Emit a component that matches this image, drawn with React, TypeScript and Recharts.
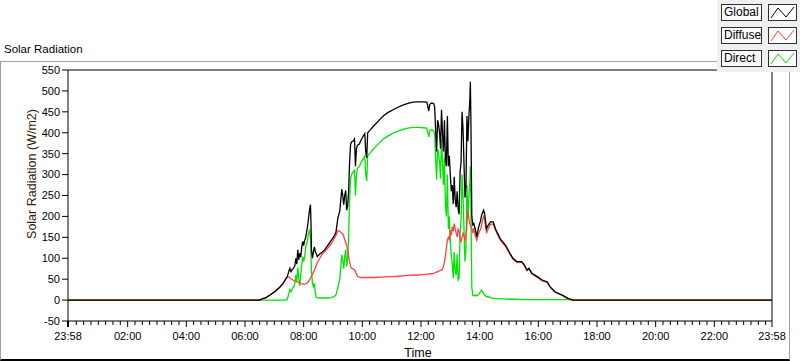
import React from 'react';
import { LineChart, Line, XAxis, YAxis, ReferenceArea } from 'recharts';

// time in minutes after midnight (-2 = 23:58 of the previous day)
const minutes = [
  -2, 390, 395, 403, 411, 421, 432, 438, 442, 446, 448, 450, 452, 454, 456, 458, 460, 462, 464, 466,
  468, 470, 472, 474, 476, 478, 480, 482, 484, 486, 488, 490, 492, 494, 495, 496, 498, 500, 502, 504,
  506, 508, 513, 517, 523, 529, 536, 542, 546, 550, 554, 556, 558, 560, 562, 564, 566, 568, 570, 572,
  574, 576, 578, 582, 584, 586, 588, 590, 594, 598, 603, 605, 607, 609, 611, 615, 622, 628, 636, 644,
  652, 663, 673, 683, 693, 704, 714, 724, 732, 736, 738, 742, 746, 748, 750, 752, 754, 756, 758, 760,
  762, 764, 766, 768, 770, 772, 774, 776, 778, 780, 782, 784, 786, 788, 790, 792, 794, 796, 798, 800,
  802, 804, 806, 808, 810, 812, 814, 816, 818, 820, 821, 822, 824, 826, 828, 832, 834, 838, 842, 844,
  848, 850, 854, 858, 862, 868, 872, 882, 893, 902, 908, 916, 926, 931, 937, 941, 947, 958, 968, 978,
  984, 994, 1009, 1021, 1031, 1438,
];

const globalRad = [
  0, 0, 3, 6, 12, 20, 32, 40, 48, 55, 62, 70, 76, 68, 72, 74, 78, 82, 100, 86,
  120, 96, 112, 102, 126, 140, 130, 143, 148, 162, 176, 196, 216, 228, 184, 120, 100, 115, 127, 115,
  110, 104, 110, 114, 120, 130, 142, 152, 162, 196, 214, 240, 265, 250, 228, 250, 262, 215, 225, 260,
  330, 372, 378, 381, 385, 320, 362, 370, 373, 384, 394, 398, 355, 340, 400, 405, 415, 422, 432, 441,
  448, 455, 461, 466, 470, 473, 474, 474, 473, 452, 468, 471, 470, 462, 405, 355, 430, 420, 400, 362,
  455, 400, 355, 430, 335, 320, 440, 320, 345, 300, 260, 275, 230, 295, 240, 222, 260, 218, 205, 305,
  330, 450, 410, 325, 245, 270, 440, 380, 440, 480, 522, 440, 200, 180, 183, 165, 151, 175, 190, 203,
  215, 208, 171, 180, 187, 187, 171, 147, 131, 112, 100, 92, 92, 85, 72, 76, 64, 56, 48, 44,
  32, 20, 12, 4, 0, 0,
];

const diffuseRad = [
  0, 0, 3, 6, 12, 20, 32, 40, 48, 54, 56, 55, 53, 51, 50, 48, 47, 46, 45, 44,
  43, 42, 41, 40, 39, 38, 38, 38, 39, 40, 42, 45, 48, 52, 55, 58, 62, 66, 72, 78,
  84, 90, 100, 108, 116, 124, 134, 146, 154, 166, 165, 162, 160, 158, 152, 145, 138, 130, 120, 105,
  90, 80, 76, 74, 72, 68, 62, 57, 55, 54, 54, 54, 54, 54, 54, 54, 54, 54, 55, 55,
  56, 56, 57, 58, 59, 60, 60, 61, 62, 62, 63, 63, 64, 65, 66, 67, 68, 69, 70, 71,
  72, 75, 80, 90, 105, 125, 143, 150, 145, 167, 155, 175, 165, 183, 170, 160, 151, 170, 165, 145,
  140, 150, 160, 155, 143, 150, 180, 215, 195, 183, 180, 175, 170, 160, 172, 150, 143, 160, 170, 180,
  200, 196, 160, 172, 181, 182, 168, 144, 128, 110, 98, 90, 90, 83, 70, 74, 62, 54, 46, 42,
  31, 19, 11, 3, 0, 0,
];

const directRad = [
  0, 0, 0, 0, 0, 0, 0, 0, 0, 1, 8, 18, 26, 20, 24, 30, 32, 40, 60, 44,
  78, 52, 34, 58, 84, 104, 92, 102, 124, 136, 142, 160, 166, 150, 104, 72, 40, 32, 40, 16,
  6, 6, 5, 5, 5, 5, 6, 8, 12, 30, 50, 80, 108, 95, 75, 104, 120, 80, 100, 150,
  240, 290, 300, 307, 312, 250, 300, 315, 320, 330, 340, 344, 300, 285, 345, 350, 360, 368, 377, 386,
  392, 399, 404, 408, 411, 413, 413, 412, 411, 390, 405, 407, 405, 395, 340, 288, 360, 350, 330, 290,
  385, 330, 275, 340, 230, 200, 300, 170, 200, 140, 105, 90, 52, 115, 70, 60, 110, 48, 52, 160,
  190, 300, 250, 170, 92, 120, 275, 200, 250, 280, 320, 240, 30, 12, 10, 12, 10, 14, 20, 24,
  16, 12, 8, 8, 6, 4, 4, 3, 3, 2, 2, 2, 1, 1, 1, 1, 1, 1, 1, 1,
  1, 1, 1, 1, 0, 0,
];

const yTicks = [-50, 0, 50, 100, 150, 200, 250, 300, 350, 400, 450, 500, 550];
const majorXTicks = [-2, 120, 240, 360, 480, 600, 720, 840, 960, 1080, 1200, 1320, 1438];
const majorXLabels = ['23:58', '02:00', '04:00', '06:00', '08:00', '10:00', '12:00', '14:00', '16:00', '18:00', '20:00', '22:00', '23:58'];
const minorXTicks: number[] = [];
for (let m = 15; m < 1438; m += 15) {
  if (m % 120 !== 0) minorXTicks.push(m);
}
const allXTicks = [...majorXTicks, ...minorXTicks].sort((a, b) => a - b);

const seriesNames = ['Global', 'Diffuse', 'Direct'];
const seriesColors = ['#000000', '#ff4040', '#00e400'];

const data = minutes.map((m, i) => ({
  m,
  g: globalRad[i],
  d: diffuseRad[i],
  b: directRad[i],
}));

const FONT = '"Liberation Sans", Arial, sans-serif';

const XTick = (props: any) => {
  const { x, y, payload } = props;
  const idx = majorXTicks.indexOf(payload.value);
  if (idx >= 0) {
    return (
      <g>
        <line x1={x} y1={y} x2={x} y2={y + 6} stroke="#000" strokeWidth={idx === 0 ? 2 : 1} />
        <text x={x} y={y + 19} textAnchor="middle" fontSize={11} fill="#000" fontFamily={FONT}>
          {majorXLabels[idx]}
        </text>
      </g>
    );
  }
  return <line x1={x} y1={y} x2={x} y2={y + 4} stroke="#000" />;
};

const LegendGlyph = ({ color }: { color: string }) => (
  <svg width={27} height={15} style={{ display: 'block' }}>
    <polyline points="2,13 9,3 17,12 25,2" fill="none" stroke={color} strokeWidth={1} />
  </svg>
);

export default function App() {
  return (
    <div style={{ position: 'absolute', left: 0, top: 0, width: 800, height: 361, background: '#fff', overflow: 'hidden', fontFamily: FONT }}>
      {/* outer frame */}
      <div
        style={{
          position: 'absolute',
          left: 0,
          top: 61,
          width: 788,
          height: 297,
          borderTop: '1px solid #a0a0a0',
          borderLeft: '1px solid #a0a0a0',
          borderRight: '1px solid #a0a0a0',
          borderBottom: '2px solid #000',
        }}
      />
      <div style={{ position: 'absolute', left: 4, top: 43, fontSize: 11.5, color: '#000', whiteSpace: 'nowrap' }}>
        Solar Radiation
      </div>
      <div style={{ position: 'absolute', left: 0, top: 0 }}>
        <LineChart width={800} height={361} data={data} margin={{ top: 70, right: 28, bottom: 10, left: 8 }}>
          <XAxis
            dataKey="m"
            type="number"
            domain={[-2, 1438]}
            ticks={allXTicks}
            interval={0}
            tick={<XTick />}
            tickLine={false}
            axisLine={false}
            tickSize={0}
            tickMargin={0}
            height={30}
            allowDataOverflow
          />
          <YAxis
            type="number"
            domain={[-50, 550]}
            ticks={yTicks}
            interval={0}
            width={60}
            tickSize={6}
            tickMargin={2}
            axisLine={false}
            tickLine={{ stroke: '#000' }}
            tick={{ fontSize: 11, fill: '#000', fontFamily: FONT }}
            allowDataOverflow
          />
          <ReferenceArea x1={-2} x2={1438} y1={-50} y2={550} fill="none" stroke="#000" strokeWidth={1} ifOverflow="visible" />
          <Line type="linear" dataKey="b" name={seriesNames[2]} stroke={seriesColors[2]} strokeWidth={1.3} dot={false} isAnimationActive={false} />
          <Line type="linear" dataKey="d" name={seriesNames[1]} stroke={seriesColors[1]} strokeWidth={1.3} dot={false} isAnimationActive={false} />
          <Line type="linear" dataKey="g" name={seriesNames[0]} stroke={seriesColors[0]} strokeWidth={1.3} dot={false} isAnimationActive={false} />
        </LineChart>
      </div>
      {/* axis titles */}
      <div
        style={{
          position: 'absolute',
          left: 32,
          top: 174,
          transform: 'translate(-50%, -50%) rotate(-90deg)',
          fontSize: 12.5,
          color: '#3a1a0a',
          whiteSpace: 'nowrap',
        }}
      >
        Solar Radiation (W/m2)
      </div>
      <div style={{ position: 'absolute', left: 418, top: 353, transform: 'translate(-50%, -50%)', fontSize: 12.5, color: '#000' }}>
        Time
      </div>
      {/* legend */}
      <div style={{ position: 'absolute', left: 717, top: 0, width: 83, height: 72, background: '#f0f0f0' }}>
        {seriesNames.map((name, i) => (
          <div key={name}>
            <div
              style={{
                position: 'absolute',
                left: 4,
                top: 4 + i * 23,
                width: 41,
                height: 17,
                border: '1px solid #303030',
                background: '#fbfbfb',
                boxSizing: 'border-box',
                fontSize: 12,
                lineHeight: '15px',
                paddingLeft: 2,
                color: '#000',
                whiteSpace: 'nowrap',
              }}
            >
              {name}
            </div>
            <div
              style={{
                position: 'absolute',
                left: 51,
                top: 4 + i * 23,
                width: 29,
                height: 17,
                border: '1px solid #303030',
                background: '#fff',
                boxSizing: 'border-box',
              }}
            >
              <LegendGlyph color={seriesColors[i]} />
            </div>
          </div>
        ))}
      </div>
    </div>
  );
}
